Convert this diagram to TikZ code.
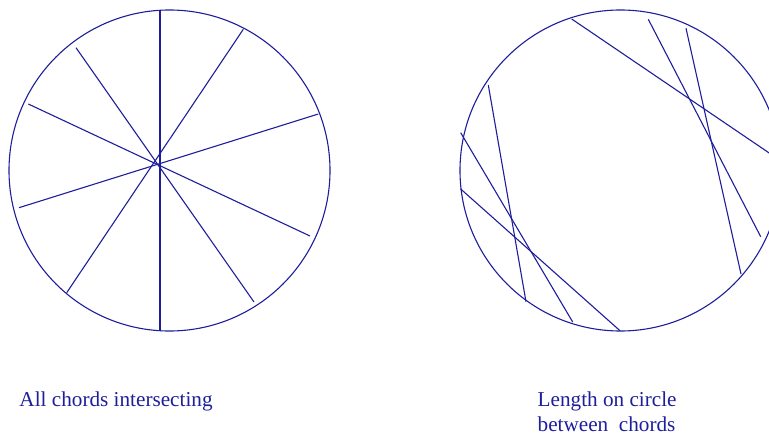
\documentclass[tikz,border=0pt]{standalone}
\usepackage{fontspec}
\setmainfont{Liberation Serif}
\usepackage{xcolor}
\usetikzlibrary{positioning}
\definecolor{chordblue}{HTML}{1E1E9C}

\begin{document}
\begin{tikzpicture}[
  x=1pt, y=-1pt,
  rim/.style={draw=chordblue, line width=1.1pt},
  chord/.style={draw=chordblue, line width=1.1pt},
  caption/.style={text=chordblue, font=\fontsize{21.2}{26}\selectfont, inner sep=0pt, text depth=0pt, anchor=base west}]
  \useasboundingbox (0,0) rectangle (769,436);
  \clip (0,0) rectangle (769,436);
  \coordinate (left) at (169.5,170.5);
  \coordinate (right) at (620.5,170.5);
  % all chords through one point
  \draw[rim] (left) circle[radius=160.5];
  \draw[chord] (160,10) -- (160,331);
  \draw[chord] (243.3,29.3) -- (66.7,292.7);
  \draw[chord] (318.3,114) -- (19,207.7);
  \draw[chord] (76,47.7) -- (254,302);
  \draw[chord] (28.3,104) -- (310,236);
  % chords in pairs
  \draw[rim] (right) circle[radius=160.5];
  \draw[chord] (571.7,19) -- (781,161);
  \draw[chord] (648.3,19.3) -- (760.7,236.7);
  \draw[chord] (686,28.3) -- (741,274);
  \draw[chord] (488.3,85) -- (526,301.7);
  \draw[chord] (460.7,132.7) -- (572.7,322);
  \draw[chord] (460.7,189) -- (620,330.7);
  % captions
  \node[caption] (allcap) at (19.3,406.7) {All chords intersecting};
  \node[caption] (lencap) at (537.5,406.7) {Length on circle};
  \node[caption] (betcap) at (537.5,431.2) {between\ \ chords};
\end{tikzpicture}
\end{document}
